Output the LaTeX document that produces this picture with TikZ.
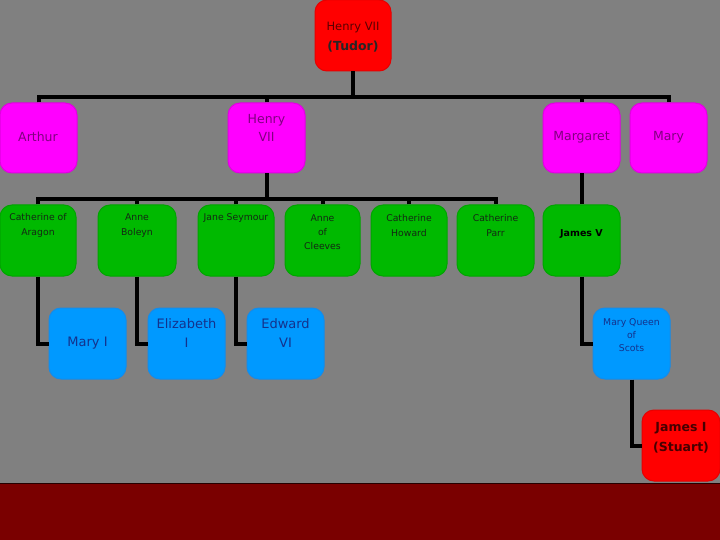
\documentclass[tikz,border=0pt]{standalone}
\usepackage{fontspec}
\setmainfont{DejaVu Sans}
\definecolor{bg}{RGB}{128,128,128}
\definecolor{band}{RGB}{122,0,0}
\definecolor{magf}{RGB}{255,0,255}
\definecolor{magd}{RGB}{225,0,225}
\definecolor{grnf}{RGB}{0,185,0}
\definecolor{grnd}{RGB}{0,165,0}
\definecolor{bluf}{RGB}{0,153,255}
\definecolor{blud}{RGB}{20,140,235}
\definecolor{redf}{RGB}{255,0,0}
\definecolor{redd}{RGB}{230,0,0}
\definecolor{purtxt}{RGB}{128,0,128}
\definecolor{blutxt}{RGB}{20,50,140}
\definecolor{grntxt}{RGB}{20,40,20}
\tikzset{
  box/.style={rectangle, rounded corners=12pt, minimum height=71pt, line width=1pt, inner sep=0pt},
  magbox/.style={box, fill=magf, draw=magd, minimum width=77pt, minimum height=70pt},
  grnbox/.style={box, fill=grnf, draw=grnd},
  blubox/.style={box, fill=bluf, draw=blud, minimum width=77pt},
  redbox/.style={box, fill=redf, draw=redd},
  conn/.style={line width=4pt, black},
  small/.style={align=center, font=\fontsize{9.3}{15}\selectfont, text=grntxt},
  magtxt/.style={align=center, font=\fontsize{12.5}{18}\selectfont, text=purtxt},
  bigtxt/.style={align=center, font=\fontsize{13}{19}\selectfont, text=blutxt},
}
\begin{document}
\begin{tikzpicture}[x=1pt, y=-1pt]
\useasboundingbox (0,0) rectangle (720,540);
\fill[bg] (0,0) rectangle (720,540);
\fill[band] (0,483) rectangle (720,540);
\draw[line width=1pt, black!70!band] (0,483) -- (720,483);

% top
\node[redbox, minimum width=76pt] (henry7) at (353,35.5) {};
% row 1
\node[magbox] (arthur) at (38.5,138) {};
\node[magbox] (henry8) at (266.5,138) {};
\node[magbox] (margaret) at (581.5,138) {};
\node[magbox] (mary) at (668.5,138) {};
% row 2
\node[grnbox, minimum width=76pt] (aragon) at (38,240.5) {};
\node[grnbox, minimum width=78pt] (boleyn) at (137,240.5) {};
\node[grnbox, minimum width=76pt] (seymour) at (236,240.5) {};
\node[grnbox, minimum width=75pt] (cleves) at (322.5,240.5) {};
\node[grnbox, minimum width=76pt] (howard) at (409,240.5) {};
\node[grnbox, minimum width=77pt] (parr) at (495.5,240.5) {};
\node[grnbox, minimum width=77pt] (james5) at (581.5,240.5) {};
% row 3
\node[blubox] (maryI) at (87.5,343.5) {};
\node[blubox] (eliz) at (186.5,343.5) {};
\node[blubox] (edward) at (285.5,343.5) {};
\node[blubox] (mqs) at (631.5,343.5) {};
% bottom
\node[redbox, minimum width=78pt] (james1) at (681,445.5) {};

% connectors
\coordinate (bus1) at (353,97);
\coordinate (bus2) at (266.5,199);
\draw[conn] (henry7.south) -- (bus1);
\draw[conn] (arthur.north) |- (bus1) -| (mary.north);
\draw[conn] (henry8.north) -- (henry8.north |- bus1);
\draw[conn] (margaret.north) -- (margaret.north |- bus1);
\draw[conn] (henry8.south) -- (bus2);
\draw[conn] (aragon.north) |- (bus2) -| (parr.north);
\draw[conn] (boleyn.north) -- (boleyn.north |- bus2);
\draw[conn] (seymour.north) -- (seymour.north |- bus2);
\draw[conn] (cleves.north) -- (cleves.north |- bus2);
\draw[conn] (howard.north) -- (howard.north |- bus2);
\draw[conn] (margaret.south) -- (james5.north);
\draw[conn] (aragon.south) |- (maryI.west);
\draw[conn] (boleyn.south) |- (eliz.west);
\draw[conn] (seymour.south) |- (edward.west);
\draw[conn] (james5.south) |- (mqs.west);
\draw[conn] (mqs.south) |- (james1.west);

% texts
\node[align=center, font=\fontsize{11.5}{19}\selectfont, text={rgb,255:red,90;green,0;blue,0}] (t-henry7a) at (353,28) {Henry VII};
\node[align=center, font=\fontsize{12.5}{19}\selectfont\bfseries, text=black!85] (t-henry7b) at (353,47) {(Tudor)};
\node[magtxt] (t-arthur) at (38,137) {Arthur};
\node[magtxt] (t-henry8) at (266.5,128) {Henry\\VII};
\node[magtxt] (t-margaret) at (581.5,137) {Margaret};
\node[magtxt] (t-mary) at (668.5,137) {Mary};
\node[small] (t-aragon) at (38,225.5) {Catherine of\\Aragon};
\node[small] (t-boleyn) at (137,225.5) {Anne\\Boleyn};
\node[small] (t-seymour) at (236,218) {Jane Seymour};
\node[small, font=\fontsize{9.3}{14}\selectfont] (t-cleves) at (322.5,232) {Anne\\of\\Cleeves};
\node[small] (t-howard) at (409,225.5) {Catherine\\Howard};
\node[small] (t-parr) at (495.5,225.5) {Catherine\\Parr};
\node[small, font=\fontsize{9.5}{15}\selectfont\bfseries, text=black] (t-james5) at (581.5,234) {James V};
\node[bigtxt] (t-maryI) at (87.5,343) {Mary I};
\node[bigtxt] (t-eliz) at (186.5,333.5) {Elizabeth\\I};
\node[bigtxt] (t-edward) at (285.5,333.5) {Edward\\VI};
\node[small, font=\fontsize{9.3}{13}\selectfont, text=blutxt] (t-mqs) at (631.5,335) {Mary Queen\\of\\Scots};
\node[align=center, font=\fontsize{12.5}{20}\selectfont\bfseries, text={rgb,255:red,70;green,0;blue,0}] (t-james1) at (681,438) {James I\\(Stuart)};
\end{tikzpicture}
\end{document}
